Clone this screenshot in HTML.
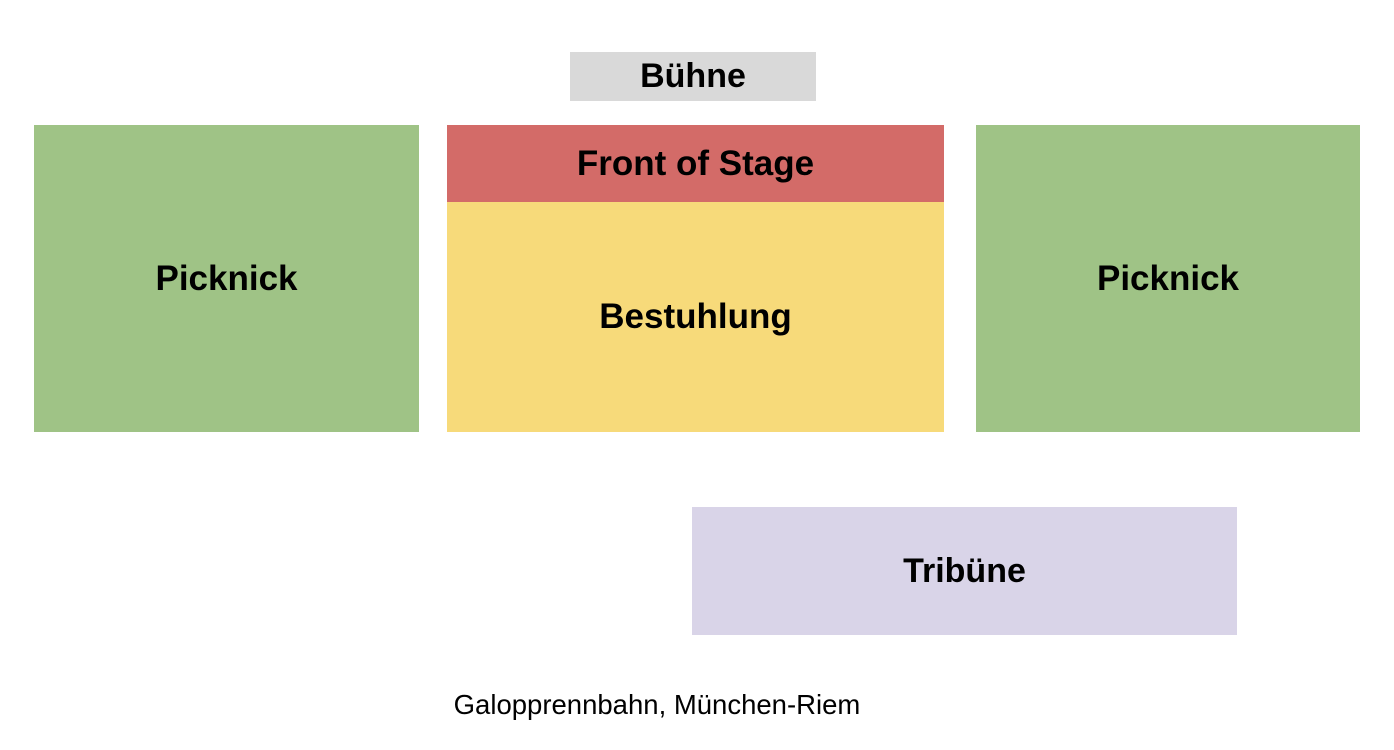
<!DOCTYPE html>
<html><head><meta charset="utf-8"><style>
body{margin:0;width:1394px;height:750px;background:#fff;position:relative;overflow:hidden;font-family:"Liberation Sans",Arial,sans-serif}
.b{position:absolute;display:flex;align-items:center;justify-content:center;font-weight:bold;font-size:35px;color:#000}
</style></head><body>
<div class="b" style="left:570px;top:52px;width:246px;height:49px;background:#d9d9d9;font-size:34px">Bühne</div>
<div class="b" style="left:34px;top:125px;width:385px;height:307px;background:#9fc386">Picknick</div>
<div class="b" style="left:447px;top:125px;width:497px;height:77px;background:#d36b68;font-size:35px">Front of Stage</div>
<div class="b" style="left:447px;top:202px;width:497px;height:230px;background:#f7da7a">Bestuhlung</div>
<div class="b" style="left:976px;top:125px;width:384px;height:307px;background:#9fc386">Picknick</div>
<div class="b" style="left:692px;top:507px;width:545px;height:128px;background:#d9d4e8;font-size:34px">Tribüne</div>
<div style="position:absolute;left:0;width:1314px;top:689px;text-align:center;font-size:27.5px;color:#000">Galopprennbahn, München-Riem</div>
</body></html>
